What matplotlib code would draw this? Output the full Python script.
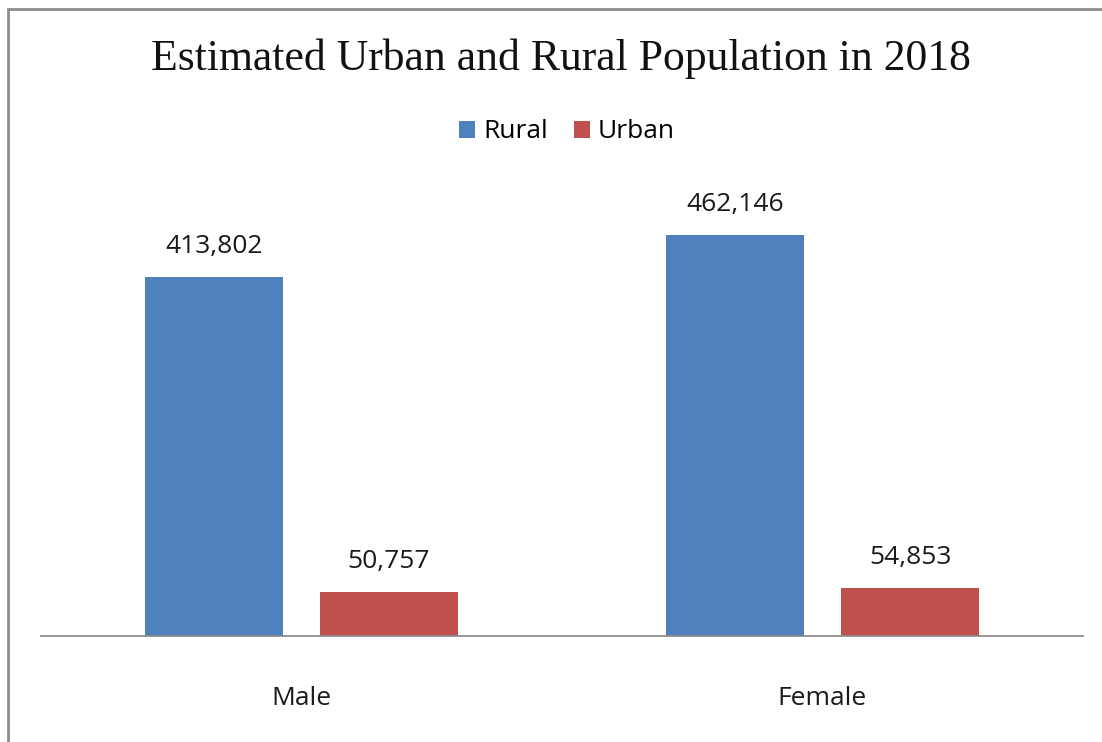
import numpy as np
import matplotlib.pyplot as plt
from matplotlib.patches import Rectangle

# data
categories = ["Male", "Female"]
series_names = ["Rural", "Urban"]
rural = [413802, 462146]
urban = [50757, 54853]
colors = ["#4F81BD", "#C0504D"]

fig = plt.figure(figsize=(11.02, 7.42), dpi=100)
ax = fig.add_axes([41 / 1102, 1 - 636 / 742, 1042 / 1102, 434 / 742])

# outer chart frame (only left and top edges visible)
fig.patches.append(Rectangle((8 / 1102, -0.5), 1.5, 1.5 - 9 / 742,
                             transform=fig.transFigure, fill=False,
                             edgecolor="#8c8c8c", linewidth=2))

x = np.arange(len(categories))
w = 0.265
off = 0.168
for vals, name, c, d in [(rural, series_names[0], colors[0], -off),
                         (urban, series_names[1], colors[1], off)]:
    bars = ax.bar(x + d, vals, width=w, color=c, label=name)
    for b, v in zip(bars, vals):
        ax.annotate(f"{v:,}", (b.get_x() + b.get_width() / 2, v),
                    xytext=(0, 22), textcoords="offset points",
                    ha="center", va="center", fontsize=19,
                    family="Open Sans", color="#1a1a1a")

ax.set_xlim(-0.5, 1.5)
ax.set_ylim(0, 500000)
ax.set_yticks([])
ax.set_xticks(x)
ax.set_xticklabels(categories, fontsize=19, family="Open Sans", color="#1a1a1a")
ax.tick_params(axis="x", length=0, pad=36)
for s in ["top", "right", "left"]:
    ax.spines[s].set_visible(False)
ax.spines["bottom"].set_color("#8c8c8c")
ax.spines["bottom"].set_linewidth(1.3)

fig.text(561 / 1102, 1 - 59 / 742, "Estimated Urban and Rural Population in 2018",
         ha="center", va="center", fontsize=31.5, family="Liberation Serif",
         color="#111111")

fig.legend(loc="center", bbox_to_anchor=(567 / 1102, 1 - 132 / 742), ncol=2,
           frameon=False, handlelength=0.6, handleheight=0.6,
           handletextpad=0.3, columnspacing=1.0,
           prop={"family": "Open Sans", "size": 19})

fig.savefig("out.png", dpi=100)
